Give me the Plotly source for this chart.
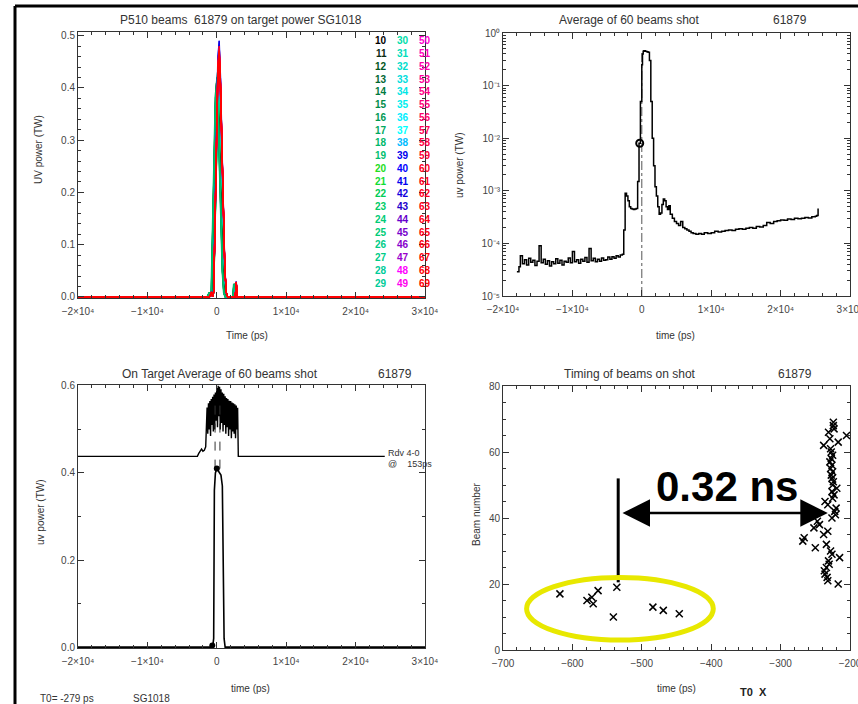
import plotly.graph_objects as go

W, H = 858, 704
def px(x): return x / W
def py(y): return 1 - y / H

# ---------------- data ----------------
T0 = -279
beams = list(range(10, 70))
# beam timing (ps), beams 10..69
beam_time = [-541, -446, -469, -484, -570, -579, -572, -618, -563, -536,
             -217, -232, -233, -236, -237, -234, -230, -231, -215, -226,
             -228, -250, -234, -268, -266, -238, -232, -252, -244, -247,
             -226, -221, -222, -220, -232, -236, -225, -223, -226, -219,
             -225, -224, -226, -227, -225, -228, -226, -229, -227, -225,
             -227, -228, -238, -217, -229, -205, -231, -223, -224, -224]
beam_peak = [0.42, 0.41, 0.40, 0.43, 0.41, 0.40, 0.42, 0.41, 0.40, 0.41,
             0.40, 0.41, 0.40, 0.42, 0.41, 0.40, 0.43, 0.41, 0.42, 0.40,
             0.43, 0.44, 0.45, 0.44, 0.46, 0.45, 0.44, 0.46, 0.47, 0.49,
             0.48, 0.47, 0.49, 0.46, 0.45, 0.44, 0.45, 0.46, 0.47, 0.46,
             0.46, 0.47, 0.45, 0.46, 0.47, 0.48, 0.46, 0.47, 0.45, 0.46,
             0.47, 0.46, 0.45, 0.47, 0.48, 0.46, 0.47, 0.45, 0.46, 0.47]
beam_colors = ["#000000", "#0b2a12", "#005522", "#006633", "#007a40", "#008c4a", "#009955", "#00a860", "#00b86a", "#00c070",
               "#22dd22", "#11dd33", "#00cc55", "#00cc66", "#00cc77", "#00cc77", "#00cc88", "#00cc88", "#00cc99", "#00cc99",
               "#00ddaa", "#00ddbb", "#00ddcc", "#00dddd", "#00e6e6", "#00eeee", "#00eeff", "#00ffff", "#00bbff", "#0000ee",
               "#0000ff", "#0000ee", "#1100dd", "#2200cc", "#6600cc", "#7700cc", "#8800cc", "#9900cc", "#ff00ff", "#ff00ee",
               "#ff00cc", "#ff00bb", "#ff00aa", "#ff0099", "#ff0088", "#ff0077", "#ff0066", "#ff0055", "#ff0044", "#ff0033",
               "#ff0022", "#ff0020", "#ff001c", "#ff0018", "#ff0014", "#ff0010", "#ff000c", "#ff0008", "#ff0004", "#ff0000"]
# normalised single-beam pulse shape (time offset ps, relative power)
pulse_dt = [-1100, -800, -650, -500, -300, -100, 100, 300, 500, 700, 900, 1100, 1300, 1500, 2600, 2750, 2900]
pulse_norm = [0, 0.02, 0, 0.02, 0.35, 0.70, 0.93, 1.0, 0.85, 0.60, 0.35, 0.12, 0.02, 0, 0, 0.06, 0]

# average of 60 beams (log panel)
avg_t = [-18000, -17700, -17500, -17200, -16900, -16600, -16300, -16000, -15700, -15400,
         -15100, -14800, -14500, -14200, -13900, -13600, -13300, -13000, -12700, -12400,
         -12100, -11800, -11500, -11200, -10900, -10600, -10300, -10000, -9700, -9400,
         -9100, -8800, -8500, -8200, -7900, -7600, -7300, -7000, -6700, -6400,
         -6100, -5800, -5500, -5200, -4900, -4600, -4300, -4000, -3700, -3400,
         -3100, -2800, -2600, -2400, -2200, -2000, -1800, -1600, -1400, -1200,
         -1000, -800, -600, -400, -200, 0, 100, 200, 300, 500,
         700, 900, 1100, 1300, 1500, 1700, 1900, 2100, 2300, 2500,
         2700, 2900, 3100, 3300, 3500, 3700, 3900, 4100, 4400, 4700,
         5000, 5300, 5600, 5900, 6200, 6500, 6800, 7100, 7400, 7800,
         8200, 8600, 9000, 9500, 10000, 10500, 11000, 11500, 12000, 12500,
         13000, 13500, 14000, 14500, 15000, 15500, 16000, 16500, 17000, 17500,
         18000, 18500, 19000, 19500, 20000, 20500, 21000, 21500, 22000, 22500,
         23000, 23500, 24000, 24500, 25000, 25200, 25400]
avg_v = [2.9e-5, 3.6e-5, 5.8e-5, 4.1e-5, 4.9e-5, 3.9e-5, 5.2e-5, 4.4e-5, 4.8e-5, 3.8e-5,
         4.6e-5, 9.0e-5, 4.3e-5, 5.0e-5, 4.0e-5, 4.7e-5, 3.7e-5, 4.5e-5, 4.1e-5, 5.1e-5,
         4.2e-5, 4.8e-5, 3.9e-5, 4.6e-5, 4.4e-5, 5.3e-5, 4.3e-5, 7.0e-5, 4.5e-5, 4.9e-5,
         4.2e-5, 5.0e-5, 4.6e-5, 5.4e-5, 4.4e-5, 8.0e-5, 4.7e-5, 5.2e-5, 4.5e-5, 5.0e-5,
         4.6e-5, 5.3e-5, 4.8e-5, 4.9e-5, 5.5e-5, 5.0e-5, 5.6e-5, 5.2e-5, 5.8e-5, 5.5e-5,
         6.0e-5, 6.2e-5, 1.8e-4, 9.0e-4, 8.0e-4, 6.5e-4, 5.0e-4, 4.6e-4, 4.5e-4, 4.4e-4,
         4.5e-4, 4.6e-4, 1.5e-3, 8.0e-3, 5.0e-2, 0.25, 0.40, 0.45, 0.46, 0.45,
         0.44, 0.43, 0.30, 0.05, 1.0e-2, 3.0e-3, 1.2e-3, 8.0e-4, 5.0e-4, 3.6e-4,
         3.8e-4, 5.5e-4, 7.0e-4, 6.5e-4, 5.0e-4, 4.4e-4, 5.2e-4, 3.6e-4, 3.0e-4, 2.6e-4,
         2.4e-4, 2.2e-4, 2.6e-4, 2.0e-4, 1.9e-4, 1.8e-4, 1.7e-4, 1.6e-4, 1.55e-4, 1.5e-4,
         1.55e-4, 1.5e-4, 1.6e-4, 1.55e-4, 1.6e-4, 1.7e-4, 1.65e-4, 1.7e-4, 1.75e-4, 1.8e-4,
         1.75e-4, 1.85e-4, 1.9e-4, 1.85e-4, 1.95e-4, 2.0e-4, 1.95e-4, 2.1e-4, 2.05e-4, 2.2e-4,
         2.5e-4, 2.4e-4, 2.6e-4, 2.7e-4, 2.8e-4, 2.75e-4, 2.9e-4, 2.85e-4, 3.0e-4, 2.95e-4,
         3.0e-4, 3.1e-4, 3.05e-4, 3.2e-4, 3.3e-4, 3.4e-4, 4.6e-4]
avg_mark_t = [-300]
avg_mark_v = [8.0e-3]

# on-target average
ot_t = [-20000, -1000, -800, -700, -600, -450, -350, -200, 0, 200, 400, 600, 800, 950, 1050, 1200, 30000]
ot_v = [0, 0, 0.0, 0.008, 0.0, 0.02, 0.36, 0.40, 0.41, 0.405, 0.40, 0.395, 0.37, 0.20, 0.02, 0, 0]
ot_mark_t = [-650, 0]
ot_mark_v = [0.004, 0.41]
# offset, rescaled pulse envelope drawn above (baseline 0.44)
env_t = [-20000, -2800, -2600, -2400, -2200, -2000, -1800, -1600, -1500,
         -1400, -1300, -1200, -1100, -1000, -900, -800, -700, -600, -500,
         -400, -300, -200, -100, 0, 100, 200, 300, 400, 500,
         600, 700, 800, 900, 1000, 1100, 1200, 1300, 1400, 1500,
         1600, 1700, 1800, 1900, 2000, 2100, 2200, 2300, 2400, 2500,
         2600, 2700, 2800, 2900, 3000, 3100, 24200]
env_v = [0.438, 0.438, 0.445, 0.452, 0.455, 0.450, 0.452, 0.460, 0.530,
         0.550, 0.490, 0.560, 0.500, 0.565, 0.485, 0.570, 0.510, 0.575, 0.495,
         0.580, 0.500, 0.585, 0.520, 0.595, 0.505, 0.600, 0.530, 0.598, 0.500,
         0.592, 0.515, 0.585, 0.495, 0.582, 0.510, 0.576, 0.490, 0.572, 0.505,
         0.570, 0.485, 0.566, 0.500, 0.565, 0.480, 0.562, 0.495, 0.560, 0.490,
         0.558, 0.480, 0.555, 0.500, 0.550, 0.438, 0.438]
dash1_t = [-250, -250]
dash2_t = [450, 450]
dash_v = [0.41, 0.56]

tl_xtick = [-20000, -10000, 0, 10000, 20000, 30000]
tl_xtext = ["−2×10⁴", "−1×10⁴", "0", "1×10⁴", "2×10⁴", "3×10⁴"]
log_tick = [1e-5, 1e-4, 1e-3, 1e-2, 1e-1, 1]
log_text = ["10⁻⁵", "10⁻⁴", "10⁻³", "10⁻²", "10⁻¹", "10⁰"]

# ---------------- figure ----------------
fig = go.Figure()

# top-left: individual beams
for b, t, p, c in zip(beams, beam_time, beam_peak, beam_colors):
    s = t - T0
    xs = [-20000] + [s + d for d in pulse_dt] + [30000]
    ys = [0] + [p * n for n in pulse_norm] + [0]
    fig.add_trace(go.Scatter(x=xs, y=ys, mode="lines", line=dict(color=c, width=1.2),
                             xaxis="x", yaxis="y", showlegend=False))

# top-right: log average
fig.add_trace(go.Scatter(x=[0, 0], y=[1e-5, 0.42], mode="lines",
                         line=dict(color="#555", width=1, dash="dashdot"),
                         xaxis="x2", yaxis="y2", showlegend=False))
fig.add_trace(go.Scatter(x=avg_t, y=avg_v, mode="lines", line=dict(color="black", width=1.5, shape="hv"),
                         xaxis="x2", yaxis="y2", showlegend=False))
fig.add_trace(go.Scatter(x=avg_mark_t, y=avg_mark_v, mode="markers",
                         marker=dict(symbol="circle-open", size=7, color="black", line=dict(width=2)),
                         xaxis="x2", yaxis="y2", showlegend=False))

# bottom-left
fig.add_trace(go.Scatter(x=env_t, y=env_v, mode="lines", line=dict(color="black", width=1.4),
                         xaxis="x3", yaxis="y3", showlegend=False))
for dt in (dash1_t, dash2_t):
    fig.add_trace(go.Scatter(x=dt, y=dash_v, mode="lines", line=dict(color="#333", width=1, dash="dash"),
                             xaxis="x3", yaxis="y3", showlegend=False))
fig.add_trace(go.Scatter(x=ot_t, y=ot_v, mode="lines", line=dict(color="black", width=1.6),
                         xaxis="x3", yaxis="y3", showlegend=False))
fig.add_trace(go.Scatter(x=ot_mark_t, y=ot_mark_v, mode="markers",
                         marker=dict(symbol="circle", size=6, color="black"),
                         xaxis="x3", yaxis="y3", showlegend=False))

# bottom-right: timing
fig.add_trace(go.Scatter(x=beam_time, y=beams, mode="markers",
                         marker=dict(symbol="x-thin", size=7, color="black", line=dict(width=1.5, color="black")),
                         xaxis="x4", yaxis="y4", showlegend=False))

tickfont = dict(family="Liberation Sans", size=10, color="#444")
def axis(**kw):
    d = dict(showgrid=False, zeroline=False, showline=True, linecolor="#333", linewidth=1,
             mirror="allticks", ticks="inside", ticklen=6, tickcolor="#333", tickfont=tickfont,
             automargin=False, fixedrange=True, ticklabeloverflow="allow")
    d.update(kw)
    return d

XL = [px(78), px(425)]
XR = [px(503), px(850)]
minor_log = [k * 10 ** e for e in range(-5, 0) for k in range(2, 10)]

fig.update_layout(
    width=W, height=H, margin=dict(l=0, r=0, t=0, b=0, autoexpand=False),
    paper_bgcolor="white", plot_bgcolor="white",
    xaxis=axis(domain=XL, anchor="y", range=[-20000, 30000], tickvals=tl_xtick, ticktext=tl_xtext,
               ticklabelstandoff=4,
               minor=dict(ticks="inside", ticklen=3, dtick=2000, tickcolor="#333")),
    yaxis=axis(domain=[py(298), py(32)], anchor="x", range=[-0.002, 0.507],
               tickvals=[0, 0.1, 0.2, 0.3, 0.4, 0.5], ticktext=["0.0", "0.1", "0.2", "0.3", "0.4", "0.5"],
               minor=dict(ticks="inside", ticklen=3, dtick=0.02, tickcolor="#333")),
    xaxis2=axis(domain=XR, anchor="y2", range=[-20000, 30000], tickvals=tl_xtick, ticktext=tl_xtext,
                ticklabelstandoff=4,
                minor=dict(ticks="inside", ticklen=3, dtick=2000, tickcolor="#333")),
    yaxis2=axis(domain=[py(296), py(33)], anchor="x2", type="log", range=[-5, 0],
                tickvals=log_tick, ticktext=log_text,
                minor=dict(ticks="inside", ticklen=3, tickvals=minor_log, tickcolor="#333")),
    xaxis3=axis(domain=XL, anchor="y3", range=[-20000, 30000], tickvals=tl_xtick, ticktext=tl_xtext,
                ticklabelstandoff=4,
                minor=dict(ticks="inside", ticklen=3, dtick=2000, tickcolor="#333")),
    yaxis3=axis(domain=[py(648), py(385)], anchor="x3", range=[-0.002, 0.602],
                tickvals=[0, 0.2, 0.4, 0.6], ticktext=["0.0", "0.2", "0.4", "0.6"],
                minor=dict(ticks="inside", ticklen=3, dtick=0.1, tickcolor="#333")),
    xaxis4=axis(domain=XR, anchor="y4", range=[-700, -200], tickvals=[-700, -600, -500, -400, -300, -200],
                ticktext=["−700", "−600", "−500", "−400", "−300", "−200"], ticklabelstandoff=4,
                minor=dict(ticks="inside", ticklen=3, dtick=20, tickcolor="#333")),
    yaxis4=axis(domain=[py(650), py(386)], anchor="x4", range=[0, 80], tickvals=[0, 20, 40, 60, 80],
                minor=dict(ticks="inside", ticklen=3, dtick=5, tickcolor="#333")),
)

ann = []
def txt(x, y, s, size=11, color="#333", xanchor="center", angle=0, bold=False, family="Liberation Sans"):
    ann.append(dict(xref="paper", yref="paper", x=px(x), y=py(y), text=s, showarrow=False,
                    font=dict(family=family, size=size, color=color, weight=700 if bold else 400),
                    xanchor=xanchor, yanchor="middle", textangle=angle))

# titles
txt(241, 20, "P510 beams  61879 on target power SG1018", size=12)
txt(629, 20, "Average of 60 beams shot", size=12)
txt(790, 20, "61879", size=12)
txt(220, 374, "On Target Average of 60 beams shot", size=12)
txt(395, 374, "61879", size=12)
txt(630, 374, "Timing of beams on shot", size=12)
txt(795, 374, "61879", size=12)
# axis titles
txt(247, 335, "Time (ps)", size=10)
txt(675, 335, "time (ps)", size=10)
txt(250, 688, "time (ps)", size=10)
txt(676, 688, "time (ps)", size=10)
txt(38, 150, "UV power (TW)", size=10, angle=-90)
txt(459, 165, "uv power (TW)", size=10, angle=-90)
txt(40, 512, "uv power (TW)", size=10, angle=-90)
txt(476, 515, "Beam number", size=10, angle=-90)
# footer
txt(38, 698, "T0= -279 ps", size=10, xanchor="left")
txt(131, 698, "SG1018", size=10, xanchor="left")
txt(753, 692, "T0  X", size=11, color="#222", bold=True)
# rdv label
txt(386, 453, "Rdv 4-0", size=9, xanchor="left")
txt(386, 464, "@    153ps", size=9, xanchor="left")
# beam number legend
col_x = [381, 403, 425]
for i, (b, c) in enumerate(zip(beams, beam_colors)):
    col, row = divmod(i, 20)
    txt(col_x[col], 41 + row * 12.74, str(b), size=10, color=c, bold=True)

# 0.32 ns annotation
ann.append(dict(xref="x4", yref="y4", x=-377, y=49.5, text="0.32 ns", showarrow=False,
                font=dict(family="Liberation Sans", size=42, color="black", weight=700)))
ann.append(dict(xref="x4", yref="y4", axref="x4", ayref="y4", x=-232, y=41.5, ax=-530, ay=41.5,
                text="", showarrow=True, arrowhead=2, startarrowhead=2, arrowside="end+start",
                arrowsize=2.2, startarrowsize=2.2, arrowwidth=2.5, arrowcolor="black"))
fig.update_layout(annotations=ann)

shapes = [
    dict(type="line", xref="x4", yref="y4", x0=-534, x1=-534, y0=20.5, y1=52, line=dict(color="black", width=3)),
    dict(type="circle", xref="x4", yref="y4", x0=-666, x1=-397, y0=3, y1=22, line=dict(color="#e8e800", width=5)),
    dict(type="line", xref="paper", yref="paper", x0=px(15), x1=px(15), y0=0, y1=py(6), line=dict(color="black", width=3)),
    dict(type="line", xref="paper", yref="paper", x0=px(15), x1=1, y0=py(6), y1=py(6), line=dict(color="black", width=3)),
]
fig.update_layout(shapes=shapes)

fig.write_html("out.html")
